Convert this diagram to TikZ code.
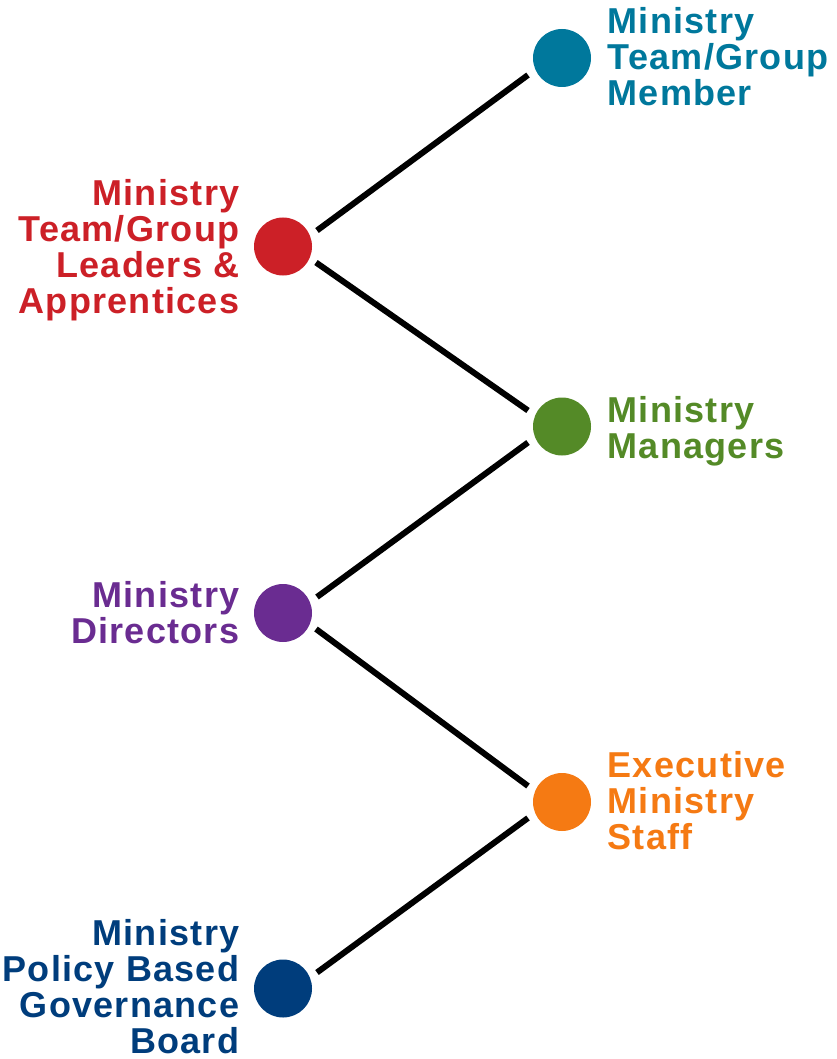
\documentclass[tikz,border=0pt]{standalone}
\usepackage{fontspec}
\setmainfont{Liberation Sans}[LetterSpace=3.5]
\definecolor{cteal}{HTML}{00789C}
\definecolor{cred}{HTML}{CC2027}
\definecolor{cgreen}{HTML}{548A27}
\definecolor{cpurple}{HTML}{6A2C91}
\definecolor{corange}{HTML}{F57A13}
\definecolor{cnavy}{HTML}{003D7C}
\tikzset{
  dot/.style={circle, fill=#1, draw=none, minimum size=58pt, inner sep=0pt},
  lab/.style={font=\fontsize{36}{36}\bfseries\selectfont, inner sep=0pt, text=#1},
  leftlab/.style={lab=#1, align=right, anchor=north east},
  rightlab/.style={lab=#1, align=left, anchor=north west},
  link/.style={line width=6pt, black, line cap=butt},
}
\begin{document}
\begin{tikzpicture}[x=1pt,y=-1pt]
\useasboundingbox (0,0) rectangle (837,1059);
% circles
\node[dot=cteal]   (teal)   at (562,58)    {};
\node[dot=cred]    (red)    at (283,246.5) {};
\node[dot=cgreen]  (green)  at (562,426.5) {};
\node[dot=cpurple] (purple) at (283,613)   {};
\node[dot=corange] (orange) at (562,802)   {};
\node[dot=cnavy]   (navy)   at (283,988.5) {};
% labels
\node[rightlab=cteal]   (tealtxt)   at (607.5,7.7) {Ministry\\Team/Group\\Member};
\node[leftlab=cred]     (redtxt)    at (239.5,179) {Ministry\\Team/Group\\Leaders \&\\Apprentices};
\node[rightlab=cgreen]  (greentxt)  at (607.5,396) {Ministry\\Managers};
\node[leftlab=cpurple]  (purpletxt) at (239.5,581) {Ministry\\Directors};
\node[rightlab=corange] (orangetxt) at (607.5,751) {Executive\\Ministry\\Staff};
\node[leftlab=cnavy]    (navytxt)   at (239.5,919.5) {Ministry\\Policy Based\\Governance\\Board};
% connectors
\draw[link] ([shift={(34,-16)}]red.center)    -- ([shift={(-34,17)}]teal.center);
\draw[link] ([shift={(33,16)}]red.center)     -- ([shift={(-34,-16)}]green.center);
\draw[link] ([shift={(34,-16)}]purple.center) -- ([shift={(-34,16)}]green.center);
\draw[link] ([shift={(33,16)}]purple.center)  -- ([shift={(-34,-16)}]orange.center);
\draw[link] ([shift={(34,-16)}]navy.center)   -- ([shift={(-34,16)}]orange.center);
\end{tikzpicture}
\end{document}
